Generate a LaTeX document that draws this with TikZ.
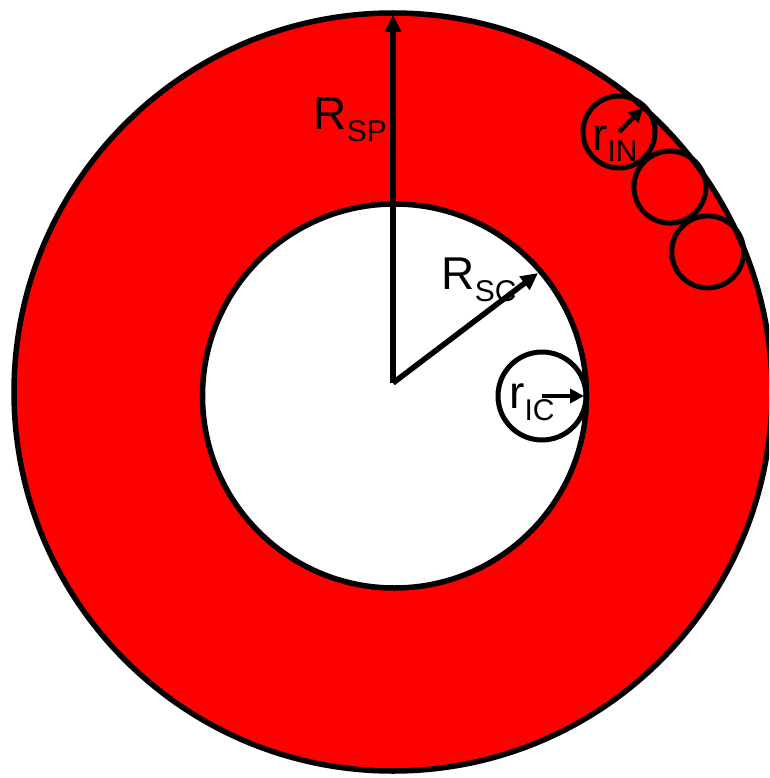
\documentclass[tikz,border=0pt]{standalone}
\usepackage{fontspec}
\setmainfont{Liberation Sans}
\usetikzlibrary{arrows.meta,calc}
\definecolor{ringred}{RGB}{255,0,0}
\newcommand{\radlbl}[2]{#1\raisebox{-12pt}{\fontsize{30}{32}\selectfont #2}}
\tikzset{
  ring/.style  ={draw=black, line width=5.5pt, fill=ringred},
  core/.style  ={draw=black, line width=5.5pt, fill=white},
  pore/.style  ={draw=black, line width=5pt},
  bigrad/.style={-{Triangle[length=17pt,width=16pt]}, line width=5.5pt},
  smlrad/.style={-{Triangle[length=14pt,width=14pt]}, line width=4.5pt},
  sym/.style   ={inner sep=0pt, anchor=base west, font=\fontsize{46}{50}\selectfont},
}
\begin{document}
\begin{tikzpicture}[x=1pt,y=-1pt]
  \useasboundingbox (0,0) rectangle (769,778);
  \clip (0,0) rectangle (769,778);
  \coordinate (sp) at (393,392);
  \coordinate (sc) at (394.5,396);
  \coordinate (o)  at (393,383);
  \coordinate (ic) at (542,396);
  \draw[ring] (sp) circle (379);
  \draw[core] (sc) circle (192);
  % small circles along the rim
  \foreach \a/\n in {-49/1,-36.5/2,-24/3}
    \coordinate (in\n) at ($(sp)+(\a:344.5)$);
  \foreach \n in {1,2,3}
    \draw[pore] (in\n) circle (36);
  \draw[pore] (ic) circle (44);
  \coordinate (sptip) at (393,15);
  \coordinate (sctip) at ($(sc)+(-40.6:189)$);
  \coordinate (ictip) at ($(ic)+(42,0)$);
  \coordinate (intip) at ($(in1)+(-45:34)$);
  \draw[bigrad] (o) -- (sptip);
  \draw[bigrad] (o) -- (sctip);
  \draw[smlrad] (ic) -- (ictip);
  \draw[smlrad] (in1) -- (intip);
  \node[sym] (lsp) at (313.5,130) {\radlbl{R}{SP}};
  \node[sym] (lsc) at (441.5,289) {\radlbl{R}{SC}};
  \node[sym] (lic) at (509,408) {\radlbl{r}{IC}};
  \node[sym] (lin) at (592,150) {\radlbl{r}{IN}};
\end{tikzpicture}
\end{document}
